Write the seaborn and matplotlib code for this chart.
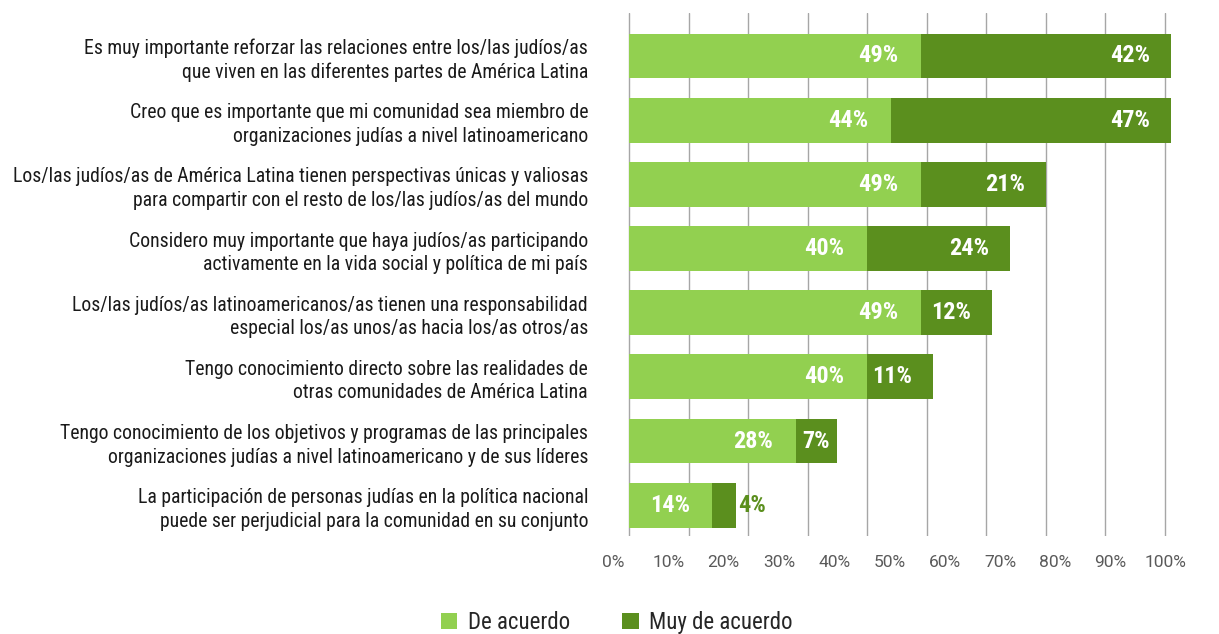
import numpy as np
import pandas as pd
import matplotlib
matplotlib.use("Agg")
import matplotlib.pyplot as plt
import matplotlib.font_manager as fm
from matplotlib.patches import Patch
import seaborn as sns

categories = [
    "Es muy importante reforzar las relaciones entre los/las judíos/as\nque viven en las diferentes partes de América Latina",
    "Creo que es importante que mi comunidad sea miembro de\norganizaciones judías a nivel latinoamericano",
    "Los/las judíos/as de América Latina tienen perspectivas únicas y valiosas\npara compartir con el resto de los/las judíos/as del mundo",
    "Considero muy importante que haya judíos/as participando\nactivamente en la vida social y política de mi país",
    "Los/las judíos/as latinoamericanos/as tienen una responsabilidad\nespecial los/as unos/as hacia los/as otros/as",
    "Tengo conocimiento directo sobre las realidades de\notras comunidades de América Latina",
    "Tengo conocimiento de los objetivos y programas de las principales\norganizaciones judías a nivel latinoamericano y de sus líderes",
    "La participación de personas judías en la política nacional\npuede ser perjudicial para la comunidad en su conjunto",
]
de_acuerdo = [49, 44, 49, 40, 49, 40, 28, 14]
muy_de_acuerdo = [42, 47, 21, 24, 12, 11, 7, 4]
tick_labels = ["0%", "10%", "20%", "30%", "40%", "50%", "60%", "70%", "80%", "90%", "100%"]
series_names = ["De acuerdo", "Muy de acuerdo"]

LIGHT = "#92D050"
DARK = "#5B8F1E"

sns.set_style("white")
names = {f.name for f in fm.fontManager.ttflist}
cond = next((n for n in ["Liberation Sans Narrow", "Roboto Condensed", "Open Sans Condensed"] if n in names), "Liberation Sans")
thin = "Roboto" if "Roboto" in names else "DejaVu Sans"
plt.rcParams["font.family"] = [cond, "DejaVu Sans"]

df = pd.DataFrame({
    "cat": categories,
    "de": de_acuerdo,
    "muy": muy_de_acuerdo,
})
df["total"] = df["de"] + df["muy"]

fig = plt.figure(figsize=(12.19, 6.34), dpi=100)
px = 6.12
ax = fig.add_axes([613 / 1219, 1 - 536 / 634, 95 * px / 1219, (536 - 13) / 634])

sns.barplot(data=df, x="total", y="cat", color=DARK, width=0.7, orient="h",
            saturation=1, ax=ax, linewidth=0)
sns.barplot(data=df, x="de", y="cat", color=LIGHT, width=0.7, orient="h",
            saturation=1, ax=ax, linewidth=0)

ax.set_xlim(0, 95)
ax.set_ylim(7.48, -0.67)
ax.set_xlabel("")
ax.set_ylabel("")
for s in ax.spines.values():
    s.set_visible(False)

# gridlines at 0..90 via minor ticks
ax.set_xticks(np.arange(0, 91, 10), minor=True)
ax.grid(False)
ax.grid(True, which="minor", axis="x", color="#A6A6A6", linewidth=1.0)
ax.set_axisbelow(True)

# tick labels (offset as in the original)
ax.set_xticks(np.linspace(-2.7, 90.2, 11))
ax.set_xticklabels(tick_labels, fontfamily=thin, fontweight="normal", fontsize=12.5, color="#5A5A5A")
ax.tick_params(axis="x", which="both", length=0, pad=14)

ax.tick_params(axis="y", length=0, pad=18)
for t in ax.get_yticklabels():
    t.set_fontsize(14.2)
    t.set_linespacing(1.3)
    t.set_color("#1A1A1A")

# value labels
fs = 17.5
for i, (d, m) in enumerate(zip(de_acuerdo, muy_de_acuerdo)):
    ax.text(d - 3.8, i, f"{d}%", ha="right", va="center", color="white",
            fontsize=fs, fontweight="bold")
    end = d + m
    if m < 5:
        ax.text(end + 0.4, i, f"{m}%", ha="left", va="center", color=DARK,
                fontsize=fs, fontweight="bold")
    elif m < 10:
        ax.text(d + m / 2, i, f"{m}%", ha="center", va="center", color="white",
                fontsize=fs, fontweight="bold")
    else:
        ax.text(end - 3.5, i, f"{m}%", ha="right", va="center", color="white",
                fontsize=fs, fontweight="bold")

handles = [Patch(facecolor=LIGHT, edgecolor="none"), Patch(facecolor=DARK, edgecolor="none")]
fig.legend(handles, series_names, loc="center", bbox_to_anchor=(0.506, 0.018), ncol=2,
           frameon=False, fontsize=16.5, handlelength=0.7, handleheight=0.7,
           handletextpad=0.45, columnspacing=2.3)

fig.savefig("out.png", dpi=100)
